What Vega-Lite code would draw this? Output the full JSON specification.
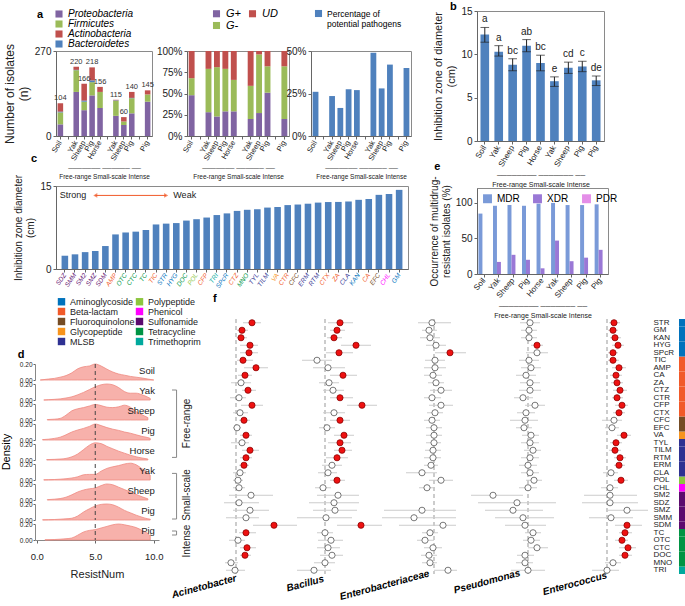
{
"$schema":"https://vega.github.io/schema/vega-lite/v6.json",
"padding":{"left":0,"top":0,"right":0,"bottom":0},
"config":{"font":"Liberation Sans","view":{"stroke":"#8a8a8a"},
"axis":{"labelFont":"Liberation Sans","titleFont":"Liberation Sans","labelFontSize":8,"titleFontSize":10,"titleFontWeight":"normal","domainColor":"#666","tickColor":"#666","labelColor":"#222","titleColor":"#222","grid":false,"tickSize":3},
"legend":{"labelFont":"Liberation Sans","labelFontSize":9,"symbolType":"square","padding":0},
"title":{"font":"Liberation Sans","fontSize":11,"fontWeight":"bold","anchor":"start","color":"#000"}},
"datasets":{
"phyla":[
{"site":"Soil","phylum":"Proteobacteria","n":37},{"site":"Soil","phylum":"Firmicutes","n":38},{"site":"Soil","phylum":"Actinobacteria","n":27},{"site":"Soil","phylum":"Bacteroidetes","n":2},
{"site":"FR Yak","phylum":"Proteobacteria","n":140},{"site":"FR Yak","phylum":"Firmicutes","n":69},{"site":"FR Yak","phylum":"Actinobacteria","n":10},{"site":"FR Yak","phylum":"Bacteroidetes","n":1},
{"site":"FR Sheep","phylum":"Proteobacteria","n":82},{"site":"FR Sheep","phylum":"Firmicutes","n":27},{"site":"FR Sheep","phylum":"Actinobacteria","n":54},{"site":"FR Sheep","phylum":"Bacteroidetes","n":3},
{"site":"FR Pig","phylum":"Proteobacteria","n":129},{"site":"FR Pig","phylum":"Firmicutes","n":42},{"site":"FR Pig","phylum":"Actinobacteria","n":42},{"site":"FR Pig","phylum":"Bacteroidetes","n":5},
{"site":"FR Horse","phylum":"Proteobacteria","n":89},{"site":"FR Horse","phylum":"Firmicutes","n":51},{"site":"FR Horse","phylum":"Actinobacteria","n":16},{"site":"FR Horse","phylum":"Bacteroidetes","n":0},
{"site":"SS Yak","phylum":"Proteobacteria","n":64},{"site":"SS Yak","phylum":"Firmicutes","n":48},{"site":"SS Yak","phylum":"Actinobacteria","n":2},{"site":"SS Yak","phylum":"Bacteroidetes","n":1},
{"site":"SS Sheep","phylum":"Proteobacteria","n":35},{"site":"SS Sheep","phylum":"Firmicutes","n":11},{"site":"SS Sheep","phylum":"Actinobacteria","n":14},{"site":"SS Sheep","phylum":"Bacteroidetes","n":0},
{"site":"SS Pig","phylum":"Proteobacteria","n":72},{"site":"SS Pig","phylum":"Firmicutes","n":48},{"site":"SS Pig","phylum":"Actinobacteria","n":19},{"site":"SS Pig","phylum":"Bacteroidetes","n":1},
{"site":"IN Pig","phylum":"Proteobacteria","n":109},{"site":"IN Pig","phylum":"Firmicutes","n":23},{"site":"IN Pig","phylum":"Actinobacteria","n":13},{"site":"IN Pig","phylum":"Bacteroidetes","n":0}],
"gram":[
{"site":"Soil","g":"G+","p":48},{"site":"Soil","g":"G-","p":20},{"site":"Soil","g":"UD","p":32},
{"site":"FR Yak","g":"G+","p":28},{"site":"FR Yak","g":"G-","p":51},{"site":"FR Yak","g":"UD","p":21},
{"site":"FR Sheep","g":"G+","p":23},{"site":"FR Sheep","g":"G-","p":58},{"site":"FR Sheep","g":"UD","p":19},
{"site":"FR Pig","g":"G+","p":29},{"site":"FR Pig","g":"G-","p":50},{"site":"FR Pig","g":"UD","p":21},
{"site":"FR Horse","g":"G+","p":29},{"site":"FR Horse","g":"G-","p":37},{"site":"FR Horse","g":"UD","p":34},
{"site":"SS Yak","g":"G+","p":20},{"site":"SS Yak","g":"G-","p":39},{"site":"SS Yak","g":"UD","p":41},
{"site":"SS Sheep","g":"G+","p":27},{"site":"SS Sheep","g":"G-","p":69},{"site":"SS Sheep","g":"UD","p":4},
{"site":"SS Pig","g":"G+","p":51},{"site":"SS Pig","g":"G-","p":31},{"site":"SS Pig","g":"UD","p":18},
{"site":"IN Pig","g":"G+","p":20},{"site":"IN Pig","g":"G-","p":62},{"site":"IN Pig","g":"UD","p":18}],
"path":[{"site":"Soil","p":26},{"site":"FR Yak","p":23.5},{"site":"FR Sheep","p":16.5},{"site":"FR Pig","p":27.5},{"site":"FR Horse","p":27},{"site":"SS Yak","p":49},{"site":"SS Sheep","p":28},{"site":"SS Pig","p":42},{"site":"IN Pig","p":40}],
"zone":[{"site":"Soil","m":12.3,"lo":11.4,"hi":13.1,"let":"a"},{"site":"FR Yak","m":10.3,"lo":9.8,"hi":11.0,"let":"a"},{"site":"FR Sheep","m":8.8,"lo":8.1,"hi":9.5,"let":"bc"},{"site":"FR Pig","m":11.0,"lo":10.3,"hi":11.7,"let":"ab"},{"site":"FR Horse","m":9.0,"lo":8.1,"hi":9.9,"let":"bc"},{"site":"SS Yak","m":6.9,"lo":6.3,"hi":7.4,"let":"e"},{"site":"SS Sheep","m":8.45,"lo":7.8,"hi":9.1,"let":"cd"},{"site":"SS Pig","m":8.6,"lo":8.0,"hi":9.2,"let":"c"},{"site":"IN Pig","m":7.0,"lo":6.4,"hi":7.5,"let":"de"}],
"mdr":[
{"site":"Soil","type":"MDR","pct":85},{"site":"Soil","type":"XDR","pct":0},{"site":"Soil","type":"PDR","pct":0},
{"site":"FR Yak","type":"MDR","pct":96},{"site":"FR Yak","type":"XDR","pct":17},{"site":"FR Yak","type":"PDR","pct":0},
{"site":"FR Sheep","type":"MDR","pct":97},{"site":"FR Sheep","type":"XDR","pct":27},{"site":"FR Sheep","type":"PDR","pct":0},
{"site":"FR Pig","type":"MDR","pct":96},{"site":"FR Pig","type":"XDR","pct":20},{"site":"FR Pig","type":"PDR","pct":0},
{"site":"FR Horse","type":"MDR","pct":99},{"site":"FR Horse","type":"XDR","pct":8},{"site":"FR Horse","type":"PDR","pct":0},
{"site":"SS Yak","type":"MDR","pct":100},{"site":"SS Yak","type":"XDR","pct":47},{"site":"SS Yak","type":"PDR","pct":0},
{"site":"SS Sheep","type":"MDR","pct":97},{"site":"SS Sheep","type":"XDR","pct":18},{"site":"SS Sheep","type":"PDR","pct":0},
{"site":"SS Pig","type":"MDR","pct":97},{"site":"SS Pig","type":"XDR","pct":23},{"site":"SS Pig","type":"PDR","pct":0},
{"site":"IN Pig","type":"MDR","pct":98},{"site":"IN Pig","type":"XDR","pct":34},{"site":"IN Pig","type":"PDR","pct":0}],
"dens":[
{"rid":"r1","lab":"Soil","x":0.3,"d":0},{"rid":"r1","lab":"Soil","x":1,"d":0.012},{"rid":"r1","lab":"Soil","x":1.5,"d":0.02},{"rid":"r1","lab":"Soil","x":2,"d":0.035},{"rid":"r1","lab":"Soil","x":2.5,"d":0.055},{"rid":"r1","lab":"Soil","x":3,"d":0.09},{"rid":"r1","lab":"Soil","x":3.5,"d":0.14},{"rid":"r1","lab":"Soil","x":4,"d":0.165},{"rid":"r1","lab":"Soil","x":4.5,"d":0.175},{"rid":"r1","lab":"Soil","x":5,"d":0.2},{"rid":"r1","lab":"Soil","x":5.5,"d":0.175},{"rid":"r1","lab":"Soil","x":6,"d":0.135},{"rid":"r1","lab":"Soil","x":6.5,"d":0.1},{"rid":"r1","lab":"Soil","x":7,"d":0.075},{"rid":"r1","lab":"Soil","x":7.5,"d":0.06},{"rid":"r1","lab":"Soil","x":8,"d":0.045},{"rid":"r1","lab":"Soil","x":8.5,"d":0.035},{"rid":"r1","lab":"Soil","x":9,"d":0.025},{"rid":"r1","lab":"Soil","x":9.5,"d":0.012},{"rid":"r1","lab":"Soil","x":10,"d":0},
{"rid":"r2","lab":"Yak","x":0.6,"d":0},{"rid":"r2","lab":"Yak","x":1,"d":0.004},{"rid":"r2","lab":"Yak","x":1.5,"d":0.008},{"rid":"r2","lab":"Yak","x":2,"d":0.014},{"rid":"r2","lab":"Yak","x":2.5,"d":0.025},{"rid":"r2","lab":"Yak","x":3,"d":0.04},{"rid":"r2","lab":"Yak","x":3.5,"d":0.065},{"rid":"r2","lab":"Yak","x":4,"d":0.095},{"rid":"r2","lab":"Yak","x":4.5,"d":0.13},{"rid":"r2","lab":"Yak","x":5,"d":0.165},{"rid":"r2","lab":"Yak","x":5.5,"d":0.19},{"rid":"r2","lab":"Yak","x":6,"d":0.2},{"rid":"r2","lab":"Yak","x":6.5,"d":0.19},{"rid":"r2","lab":"Yak","x":7,"d":0.155},{"rid":"r2","lab":"Yak","x":7.5,"d":0.105},{"rid":"r2","lab":"Yak","x":8,"d":0.085},{"rid":"r2","lab":"Yak","x":8.5,"d":0.085},{"rid":"r2","lab":"Yak","x":9,"d":0.065},{"rid":"r2","lab":"Yak","x":9.5,"d":0.035},{"rid":"r2","lab":"Yak","x":9.7,"d":0.02},
{"rid":"r3","lab":"Sheep","x":0.9,"d":0.005},{"rid":"r3","lab":"Sheep","x":1.5,"d":0.01},{"rid":"r3","lab":"Sheep","x":2,"d":0.02},{"rid":"r3","lab":"Sheep","x":2.5,"d":0.06},{"rid":"r3","lab":"Sheep","x":3,"d":0.115},{"rid":"r3","lab":"Sheep","x":3.5,"d":0.14},{"rid":"r3","lab":"Sheep","x":4,"d":0.155},{"rid":"r3","lab":"Sheep","x":4.5,"d":0.175},{"rid":"r3","lab":"Sheep","x":5,"d":0.195},{"rid":"r3","lab":"Sheep","x":5.5,"d":0.18},{"rid":"r3","lab":"Sheep","x":6,"d":0.16},{"rid":"r3","lab":"Sheep","x":6.5,"d":0.155},{"rid":"r3","lab":"Sheep","x":7,"d":0.165},{"rid":"r3","lab":"Sheep","x":7.5,"d":0.185},{"rid":"r3","lab":"Sheep","x":8,"d":0.16},{"rid":"r3","lab":"Sheep","x":8.5,"d":0.105},{"rid":"r3","lab":"Sheep","x":9,"d":0.065},{"rid":"r3","lab":"Sheep","x":9.5,"d":0.03},
{"rid":"r4","lab":"Pig","x":0.5,"d":0.005},{"rid":"r4","lab":"Pig","x":1,"d":0.01},{"rid":"r4","lab":"Pig","x":1.5,"d":0.02},{"rid":"r4","lab":"Pig","x":2,"d":0.035},{"rid":"r4","lab":"Pig","x":2.5,"d":0.065},{"rid":"r4","lab":"Pig","x":3,"d":0.1},{"rid":"r4","lab":"Pig","x":3.5,"d":0.125},{"rid":"r4","lab":"Pig","x":4,"d":0.145},{"rid":"r4","lab":"Pig","x":4.5,"d":0.17},{"rid":"r4","lab":"Pig","x":5,"d":0.2},{"rid":"r4","lab":"Pig","x":5.5,"d":0.18},{"rid":"r4","lab":"Pig","x":6,"d":0.155},{"rid":"r4","lab":"Pig","x":6.5,"d":0.135},{"rid":"r4","lab":"Pig","x":7,"d":0.12},{"rid":"r4","lab":"Pig","x":7.5,"d":0.1},{"rid":"r4","lab":"Pig","x":8,"d":0.085},{"rid":"r4","lab":"Pig","x":8.5,"d":0.065},{"rid":"r4","lab":"Pig","x":9,"d":0.045},{"rid":"r4","lab":"Pig","x":9.5,"d":0.03},{"rid":"r4","lab":"Pig","x":9.7,"d":0.02},
{"rid":"r5","lab":"Horse","x":0.85,"d":0.005},{"rid":"r5","lab":"Horse","x":1.5,"d":0.008},{"rid":"r5","lab":"Horse","x":2,"d":0.012},{"rid":"r5","lab":"Horse","x":2.5,"d":0.02},{"rid":"r5","lab":"Horse","x":3,"d":0.04},{"rid":"r5","lab":"Horse","x":3.5,"d":0.075},{"rid":"r5","lab":"Horse","x":4,"d":0.13},{"rid":"r5","lab":"Horse","x":4.5,"d":0.185},{"rid":"r5","lab":"Horse","x":5,"d":0.215},{"rid":"r5","lab":"Horse","x":5.5,"d":0.205},{"rid":"r5","lab":"Horse","x":6,"d":0.17},{"rid":"r5","lab":"Horse","x":6.5,"d":0.14},{"rid":"r5","lab":"Horse","x":7,"d":0.11},{"rid":"r5","lab":"Horse","x":7.5,"d":0.085},{"rid":"r5","lab":"Horse","x":8,"d":0.06},{"rid":"r5","lab":"Horse","x":8.5,"d":0.04},{"rid":"r5","lab":"Horse","x":9,"d":0.025},{"rid":"r5","lab":"Horse","x":9.5,"d":0.012},
{"rid":"r6","lab":"Yak","x":0.6,"d":0.002},{"rid":"r6","lab":"Yak","x":1,"d":0.004},{"rid":"r6","lab":"Yak","x":1.5,"d":0.006},{"rid":"r6","lab":"Yak","x":2,"d":0.01},{"rid":"r6","lab":"Yak","x":2.5,"d":0.016},{"rid":"r6","lab":"Yak","x":3,"d":0.025},{"rid":"r6","lab":"Yak","x":3.5,"d":0.04},{"rid":"r6","lab":"Yak","x":4,"d":0.065},{"rid":"r6","lab":"Yak","x":4.5,"d":0.07},{"rid":"r6","lab":"Yak","x":5,"d":0.07},{"rid":"r6","lab":"Yak","x":5.5,"d":0.11},{"rid":"r6","lab":"Yak","x":6,"d":0.145},{"rid":"r6","lab":"Yak","x":6.5,"d":0.165},{"rid":"r6","lab":"Yak","x":7,"d":0.18},{"rid":"r6","lab":"Yak","x":7.5,"d":0.2},{"rid":"r6","lab":"Yak","x":8,"d":0.21},{"rid":"r6","lab":"Yak","x":8.5,"d":0.19},{"rid":"r6","lab":"Yak","x":9,"d":0.14},{"rid":"r6","lab":"Yak","x":9.5,"d":0.085},{"rid":"r6","lab":"Yak","x":9.7,"d":0.06},
{"rid":"r7","lab":"Sheep","x":0.9,"d":0.004},{"rid":"r7","lab":"Sheep","x":1.5,"d":0.01},{"rid":"r7","lab":"Sheep","x":2,"d":0.018},{"rid":"r7","lab":"Sheep","x":2.5,"d":0.035},{"rid":"r7","lab":"Sheep","x":3,"d":0.065},{"rid":"r7","lab":"Sheep","x":3.5,"d":0.1},{"rid":"r7","lab":"Sheep","x":4,"d":0.125},{"rid":"r7","lab":"Sheep","x":4.5,"d":0.14},{"rid":"r7","lab":"Sheep","x":5,"d":0.15},{"rid":"r7","lab":"Sheep","x":5.5,"d":0.18},{"rid":"r7","lab":"Sheep","x":6,"d":0.2},{"rid":"r7","lab":"Sheep","x":6.5,"d":0.19},{"rid":"r7","lab":"Sheep","x":7,"d":0.16},{"rid":"r7","lab":"Sheep","x":7.5,"d":0.13},{"rid":"r7","lab":"Sheep","x":8,"d":0.1},{"rid":"r7","lab":"Sheep","x":8.5,"d":0.07},{"rid":"r7","lab":"Sheep","x":9,"d":0.04},{"rid":"r7","lab":"Sheep","x":9.5,"d":0.015},
{"rid":"r8","lab":"Pig","x":0.5,"d":0.002},{"rid":"r8","lab":"Pig","x":1,"d":0.004},{"rid":"r8","lab":"Pig","x":1.5,"d":0.006},{"rid":"r8","lab":"Pig","x":2,"d":0.01},{"rid":"r8","lab":"Pig","x":2.5,"d":0.015},{"rid":"r8","lab":"Pig","x":3,"d":0.022},{"rid":"r8","lab":"Pig","x":3.5,"d":0.05},{"rid":"r8","lab":"Pig","x":4,"d":0.1},{"rid":"r8","lab":"Pig","x":4.5,"d":0.14},{"rid":"r8","lab":"Pig","x":5,"d":0.175},{"rid":"r8","lab":"Pig","x":5.5,"d":0.195},{"rid":"r8","lab":"Pig","x":6,"d":0.2},{"rid":"r8","lab":"Pig","x":6.5,"d":0.19},{"rid":"r8","lab":"Pig","x":7,"d":0.16},{"rid":"r8","lab":"Pig","x":7.5,"d":0.12},{"rid":"r8","lab":"Pig","x":8,"d":0.09},{"rid":"r8","lab":"Pig","x":8.5,"d":0.06},{"rid":"r8","lab":"Pig","x":9,"d":0.035},{"rid":"r8","lab":"Pig","x":9.5,"d":0.015},{"rid":"r8","lab":"Pig","x":9.7,"d":0.01},
{"rid":"r9","lab":"Pig","x":0.7,"d":0.002},{"rid":"r9","lab":"Pig","x":1.5,"d":0.006},{"rid":"r9","lab":"Pig","x":2,"d":0.01},{"rid":"r9","lab":"Pig","x":2.5,"d":0.016},{"rid":"r9","lab":"Pig","x":3,"d":0.025},{"rid":"r9","lab":"Pig","x":3.5,"d":0.06},{"rid":"r9","lab":"Pig","x":4,"d":0.1},{"rid":"r9","lab":"Pig","x":4.5,"d":0.12},{"rid":"r9","lab":"Pig","x":5,"d":0.13},{"rid":"r9","lab":"Pig","x":5.5,"d":0.15},{"rid":"r9","lab":"Pig","x":6,"d":0.17},{"rid":"r9","lab":"Pig","x":6.5,"d":0.19},{"rid":"r9","lab":"Pig","x":7,"d":0.2},{"rid":"r9","lab":"Pig","x":7.5,"d":0.19},{"rid":"r9","lab":"Pig","x":8,"d":0.175},{"rid":"r9","lab":"Pig","x":8.5,"d":0.155},{"rid":"r9","lab":"Pig","x":9,"d":0.12},{"rid":"r9","lab":"Pig","x":9.5,"d":0.08},{"rid":"r9","lab":"Pig","x":9.7,"d":0.05}],
"brk":[{"grp":"Free-range","from":1.9,"to":5.27,"mid":3.57},{"grp":"Small-scale","from":6.07,"to":8.35,"mid":7.15},{"grp":"Intense","from":8.95,"to":9.15,"mid":9.45}],
"abx":[
{"ab":"SDZ","cls":"Sulfonamide","zone":2.4},{"ab":"SMM","cls":"Sulfonamide","zone":2.65},{"ab":"SM2","cls":"Sulfonamide","zone":3.05},{"ab":"SMZ","cls":"Sulfonamide","zone":3.25},{"ab":"SDM","cls":"Sulfonamide","zone":4.15},
{"ab":"AMP","cls":"Beta-lactam","zone":6.25},{"ab":"OTC","cls":"Tetracycline","zone":6.6},{"ab":"CTC","cls":"Tetracycline","zone":6.75},{"ab":"TC","cls":"Tetracycline","zone":7.05},{"ab":"TIC","cls":"Beta-lactam","zone":8.05},
{"ab":"STR","cls":"Aminoglycoside","zone":8.2},{"ab":"HYG","cls":"Aminoglycoside","zone":8.3},{"ab":"DOC","cls":"Tetracycline","zone":8.75},{"ab":"POL","cls":"Polypeptide","zone":9.0},{"ab":"CFP","cls":"Beta-lactam","zone":9.3},
{"ab":"TRI","cls":"Trimethoprim","zone":9.75},{"ab":"SPcR","cls":"Aminoglycoside","zone":10.05},{"ab":"CTZ","cls":"Beta-lactam","zone":10.5},{"ab":"MNO","cls":"Tetracycline","zone":10.7},{"ab":"TYL","cls":"MLSB","zone":10.8},
{"ab":"TILM","cls":"MLSB","zone":11.1},{"ab":"VA","cls":"Glycopeptide","zone":11.2},{"ab":"CTR","cls":"Beta-lactam","zone":11.55},{"ab":"CFC","cls":"Fluoroquinolone","zone":11.65},{"ab":"ERM","cls":"MLSB","zone":11.8},
{"ab":"RTM","cls":"MLSB","zone":12.0},{"ab":"CTX","cls":"Beta-lactam","zone":12.1},{"ab":"ZA","cls":"Beta-lactam","zone":12.12},{"ab":"CLA","cls":"MLSB","zone":12.2},{"ab":"KAN","cls":"Aminoglycoside","zone":12.5},
{"ab":"CA","cls":"Beta-lactam","zone":12.65},{"ab":"EFC","cls":"Fluoroquinolone","zone":13.4},{"ab":"CHL","cls":"Phenicol","zone":13.55},{"ab":"GM","cls":"Aminoglycoside","zone":14.3}],
"forest":[
{"b":"Acinetobacter","ab":"STR","e":1.6,"l":0.7,"h":2.5,"sig":"yes"},{"b":"Acinetobacter","ab":"GM","e":0.6,"l":0.1,"h":1.2,"sig":"yes"},{"b":"Acinetobacter","ab":"KAN","e":0.5,"l":0.05,"h":1.1,"sig":"yes"},{"b":"Acinetobacter","ab":"HYG","e":1.4,"l":0.4,"h":2.2,"sig":"yes"},{"b":"Acinetobacter","ab":"SPcR","e":1.3,"l":0.4,"h":2.2,"sig":"yes"},{"b":"Acinetobacter","ab":"TIC","e":0.7,"l":0.1,"h":1.7,"sig":"yes"},{"b":"Acinetobacter","ab":"AMP","e":2.0,"l":0.8,"h":3.2,"sig":"yes"},{"b":"Acinetobacter","ab":"CA","e":0.9,"l":0.2,"h":1.6,"sig":"yes"},{"b":"Acinetobacter","ab":"ZA","e":0.5,"l":-0.5,"h":1.5,"sig":"no"},{"b":"Acinetobacter","ab":"CTZ","e":1.2,"l":0.6,"h":2.0,"sig":"yes"},{"b":"Acinetobacter","ab":"CTR","e":0.3,"l":-0.6,"h":1.0,"sig":"no"},{"b":"Acinetobacter","ab":"CFP","e":1.6,"l":0.5,"h":2.7,"sig":"yes"},{"b":"Acinetobacter","ab":"CTX","e":0.4,"l":-0.3,"h":1.2,"sig":"no"},{"b":"Acinetobacter","ab":"CFC","e":0.8,"l":0.3,"h":1.4,"sig":"yes"},{"b":"Acinetobacter","ab":"EFC","e":0.1,"l":-0.3,"h":0.5,"sig":"no"},{"b":"Acinetobacter","ab":"VA","e":1.0,"l":0.4,"h":1.6,"sig":"yes"},{"b":"Acinetobacter","ab":"TYL","e":0.6,"l":-0.5,"h":1.3,"sig":"no"},{"b":"Acinetobacter","ab":"TILM","e":1.4,"l":0.6,"h":2.3,"sig":"yes"},{"b":"Acinetobacter","ab":"RTM","e":1.0,"l":0.4,"h":1.6,"sig":"yes"},{"b":"Acinetobacter","ab":"ERM","e":0.8,"l":0.3,"h":1.3,"sig":"yes"},{"b":"Acinetobacter","ab":"CLA","e":0.4,"l":-0.3,"h":1.0,"sig":"no"},{"b":"Acinetobacter","ab":"POL","e":0.2,"l":-0.3,"h":0.7,"sig":"no"},{"b":"Acinetobacter","ab":"CHL","e":0.3,"l":-0.3,"h":0.9,"sig":"no"},{"b":"Acinetobacter","ab":"SM2","e":1.5,"l":-0.7,"h":3.7,"sig":"no"},{"b":"Acinetobacter","ab":"SDZ","e":0.3,"l":-1.2,"h":2.3,"sig":"no"},{"b":"Acinetobacter","ab":"SMZ","e":1.4,"l":-0.3,"h":3.3,"sig":"no"},{"b":"Acinetobacter","ab":"SMM","e":1.0,"l":-1.0,"h":2.3,"sig":"no"},{"b":"Acinetobacter","ab":"SDM","e":3.8,"l":1.7,"h":6.1,"sig":"yes"},{"b":"Acinetobacter","ab":"TC","e":1.0,"l":0.3,"h":2.0,"sig":"yes"},{"b":"Acinetobacter","ab":"OTC","e":0.2,"l":-0.7,"h":0.9,"sig":"no"},{"b":"Acinetobacter","ab":"CTC","e":1.1,"l":0.4,"h":2.0,"sig":"yes"},{"b":"Acinetobacter","ab":"DOC","e":0.9,"l":0.4,"h":1.5,"sig":"yes"},{"b":"Acinetobacter","ab":"MNO","e":-0.5,"l":-1.1,"h":0.2,"sig":"no"},{"b":"Acinetobacter","ab":"TRI","e":-0.1,"l":-1.0,"h":0.9,"sig":"no"},
{"b":"Bacillus","ab":"STR","e":1.5,"l":0.3,"h":2.8,"sig":"yes"},{"b":"Bacillus","ab":"GM","e":1.2,"l":0.5,"h":2.0,"sig":"yes"},{"b":"Bacillus","ab":"KAN","e":0.9,"l":0.2,"h":1.7,"sig":"yes"},{"b":"Bacillus","ab":"HYG","e":3.1,"l":1.6,"h":4.6,"sig":"yes"},{"b":"Bacillus","ab":"SPcR","e":1.4,"l":0.1,"h":2.8,"sig":"yes"},{"b":"Bacillus","ab":"TIC","e":-0.8,"l":-2.3,"h":0.7,"sig":"no"},{"b":"Bacillus","ab":"AMP","e":0.3,"l":-1.2,"h":2.0,"sig":"no"},{"b":"Bacillus","ab":"CA","e":1.8,"l":0.5,"h":3.2,"sig":"yes"},{"b":"Bacillus","ab":"ZA","e":0.4,"l":-0.6,"h":1.4,"sig":"no"},{"b":"Bacillus","ab":"CTZ","e":0.8,"l":-0.2,"h":1.9,"sig":"no"},{"b":"Bacillus","ab":"CTR","e":1.5,"l":0.5,"h":2.8,"sig":"yes"},{"b":"Bacillus","ab":"CFP","e":3.7,"l":2.2,"h":5.2,"sig":"yes"},{"b":"Bacillus","ab":"CTX","e":0.9,"l":-0.2,"h":2.0,"sig":"no"},{"b":"Bacillus","ab":"CFC","e":1.5,"l":0.5,"h":2.5,"sig":"yes"},{"b":"Bacillus","ab":"EFC","e":0.2,"l":-0.6,"h":1.0,"sig":"no"},{"b":"Bacillus","ab":"VA","e":1.9,"l":0.9,"h":2.9,"sig":"yes"},{"b":"Bacillus","ab":"TYL","e":1.5,"l":0.3,"h":2.6,"sig":"yes"},{"b":"Bacillus","ab":"TILM","e":1.7,"l":0.9,"h":2.7,"sig":"yes"},{"b":"Bacillus","ab":"RTM","e":1.2,"l":0.1,"h":2.3,"sig":"yes"},{"b":"Bacillus","ab":"ERM","e":0.7,"l":-0.3,"h":1.7,"sig":"no"},{"b":"Bacillus","ab":"CLA","e":0.3,"l":-0.7,"h":1.2,"sig":"no"},{"b":"Bacillus","ab":"POL","e":1.2,"l":0.5,"h":2.0,"sig":"yes"},{"b":"Bacillus","ab":"CHL","e":-0.2,"l":-1.0,"h":0.6,"sig":"no"},{"b":"Bacillus","ab":"SM2","e":1.3,"l":-0.8,"h":3.4,"sig":"no"},{"b":"Bacillus","ab":"SDZ","e":0.9,"l":-1.6,"h":3.4,"sig":"no"},{"b":"Bacillus","ab":"SMZ","e":1.0,"l":-1.2,"h":3.2,"sig":"no"},{"b":"Bacillus","ab":"SMM","e":0.1,"l":-2.8,"h":2.7,"sig":"no"},{"b":"Bacillus","ab":"SDM","e":3.6,"l":1.2,"h":5.7,"sig":"yes"},{"b":"Bacillus","ab":"TC","e":0.0,"l":-0.8,"h":0.8,"sig":"no"},{"b":"Bacillus","ab":"OTC","e":0.6,"l":-0.7,"h":1.8,"sig":"no"},{"b":"Bacillus","ab":"CTC","e":0.3,"l":-0.8,"h":1.5,"sig":"no"},{"b":"Bacillus","ab":"DOC","e":0.7,"l":-0.5,"h":1.8,"sig":"no"},{"b":"Bacillus","ab":"MNO","e":0.0,"l":-1.1,"h":1.0,"sig":"no"},{"b":"Bacillus","ab":"TRI","e":-1.1,"l":-2.8,"h":0.6,"sig":"no"},
{"b":"Enterobacteriaceae","ab":"STR","e":-0.2,"l":-1.6,"h":1.7,"sig":"no"},{"b":"Enterobacteriaceae","ab":"GM","e":-0.5,"l":-1.2,"h":0.3,"sig":"no"},{"b":"Enterobacteriaceae","ab":"KAN","e":-0.4,"l":-1.4,"h":0.6,"sig":"no"},{"b":"Enterobacteriaceae","ab":"HYG","e":0.2,"l":-0.8,"h":1.2,"sig":"no"},{"b":"Enterobacteriaceae","ab":"SPcR","e":1.6,"l":0.1,"h":3.2,"sig":"yes"},{"b":"Enterobacteriaceae","ab":"TIC","e":0.1,"l":-0.9,"h":1.1,"sig":"no"},{"b":"Enterobacteriaceae","ab":"AMP","e":0.1,"l":-1.0,"h":1.2,"sig":"no"},{"b":"Enterobacteriaceae","ab":"CA","e":-0.1,"l":-1.0,"h":0.8,"sig":"no"},{"b":"Enterobacteriaceae","ab":"ZA","e":0.2,"l":-0.6,"h":1.0,"sig":"no"},{"b":"Enterobacteriaceae","ab":"CTZ","e":0.7,"l":-0.4,"h":1.8,"sig":"no"},{"b":"Enterobacteriaceae","ab":"CTR","e":-0.2,"l":-1.0,"h":0.7,"sig":"no"},{"b":"Enterobacteriaceae","ab":"CFP","e":0.7,"l":-0.5,"h":1.9,"sig":"no"},{"b":"Enterobacteriaceae","ab":"CTX","e":0.1,"l":-0.7,"h":0.9,"sig":"no"},{"b":"Enterobacteriaceae","ab":"CFC","e":-0.2,"l":-1.0,"h":0.6,"sig":"no"},{"b":"Enterobacteriaceae","ab":"EFC","e":0.0,"l":-0.8,"h":0.8,"sig":"no"},{"b":"Enterobacteriaceae","ab":"VA","e":0.0,"l":-0.8,"h":0.8,"sig":"no"},{"b":"Enterobacteriaceae","ab":"TYL","e":0.0,"l":-0.8,"h":0.7,"sig":"no"},{"b":"Enterobacteriaceae","ab":"TILM","e":-0.1,"l":-0.9,"h":0.7,"sig":"no"},{"b":"Enterobacteriaceae","ab":"RTM","e":-0.1,"l":-1.0,"h":0.7,"sig":"no"},{"b":"Enterobacteriaceae","ab":"ERM","e":-0.3,"l":-1.0,"h":0.4,"sig":"no"},{"b":"Enterobacteriaceae","ab":"CLA","e":-1.2,"l":-2.8,"h":0.3,"sig":"no"},{"b":"Enterobacteriaceae","ab":"POL","e":0.7,"l":-0.5,"h":1.9,"sig":"no"},{"b":"Enterobacteriaceae","ab":"CHL","e":-0.7,"l":-1.5,"h":0.1,"sig":"no"},{"b":"Enterobacteriaceae","ab":"SMZ","e":-1.2,"l":-5.0,"h":2.2,"sig":"no"},{"b":"Enterobacteriaceae","ab":"SMM","e":-2.0,"l":-5.2,"h":2.2,"sig":"no"},{"b":"Enterobacteriaceae","ab":"SDM","e":0.9,"l":-3.5,"h":2.2,"sig":"no"},{"b":"Enterobacteriaceae","ab":"TC","e":-0.4,"l":-1.2,"h":0.4,"sig":"no"},{"b":"Enterobacteriaceae","ab":"OTC","e":-0.9,"l":-1.7,"h":0.0,"sig":"no"},{"b":"Enterobacteriaceae","ab":"CTC","e":-0.1,"l":-1.0,"h":0.8,"sig":"no"},{"b":"Enterobacteriaceae","ab":"DOC","e":-0.5,"l":-1.3,"h":0.3,"sig":"no"},{"b":"Enterobacteriaceae","ab":"MNO","e":-0.4,"l":-1.2,"h":0.3,"sig":"no"},{"b":"Enterobacteriaceae","ab":"TRI","e":1.4,"l":0.0,"h":2.3,"sig":"no"},
{"b":"Pseudomonas","ab":"STR","e":0.2,"l":-0.8,"h":1.2,"sig":"no"},{"b":"Pseudomonas","ab":"GM","e":0.1,"l":-0.7,"h":0.9,"sig":"no"},{"b":"Pseudomonas","ab":"KAN","e":0.1,"l":-0.7,"h":0.9,"sig":"no"},{"b":"Pseudomonas","ab":"HYG","e":0.9,"l":0.3,"h":1.5,"sig":"yes"},{"b":"Pseudomonas","ab":"SPcR","e":0.9,"l":-0.2,"h":2.0,"sig":"no"},{"b":"Pseudomonas","ab":"TIC","e":0.1,"l":-0.9,"h":1.1,"sig":"no"},{"b":"Pseudomonas","ab":"AMP","e":0.3,"l":-0.7,"h":1.3,"sig":"no"},{"b":"Pseudomonas","ab":"CA","e":-0.2,"l":-1.2,"h":0.8,"sig":"no"},{"b":"Pseudomonas","ab":"ZA","e":0.2,"l":-0.8,"h":1.2,"sig":"no"},{"b":"Pseudomonas","ab":"CTZ","e":0.2,"l":-0.9,"h":1.3,"sig":"no"},{"b":"Pseudomonas","ab":"CTR","e":-0.5,"l":-1.4,"h":0.5,"sig":"no"},{"b":"Pseudomonas","ab":"CFP","e":0.7,"l":-0.3,"h":1.7,"sig":"no"},{"b":"Pseudomonas","ab":"CTX","e":-0.2,"l":-1.1,"h":0.7,"sig":"no"},{"b":"Pseudomonas","ab":"CFC","e":-0.3,"l":-1.8,"h":1.0,"sig":"no"},{"b":"Pseudomonas","ab":"EFC","e":-0.4,"l":-1.2,"h":0.4,"sig":"no"},{"b":"Pseudomonas","ab":"VA","e":0.3,"l":-0.6,"h":1.1,"sig":"no"},{"b":"Pseudomonas","ab":"TYL","e":0.2,"l":-0.7,"h":1.1,"sig":"no"},{"b":"Pseudomonas","ab":"TILM","e":0.5,"l":-0.4,"h":1.3,"sig":"no"},{"b":"Pseudomonas","ab":"RTM","e":0.2,"l":-0.7,"h":1.1,"sig":"no"},{"b":"Pseudomonas","ab":"ERM","e":0.0,"l":-0.9,"h":0.9,"sig":"no"},{"b":"Pseudomonas","ab":"CLA","e":0.2,"l":-0.7,"h":1.1,"sig":"no"},{"b":"Pseudomonas","ab":"POL","e":0.6,"l":-0.2,"h":1.4,"sig":"no"},{"b":"Pseudomonas","ab":"CHL","e":0.0,"l":-0.9,"h":0.9,"sig":"no"},{"b":"Pseudomonas","ab":"SM2","e":-3.5,"l":-5.7,"h":-0.5,"sig":"no"},{"b":"Pseudomonas","ab":"SDZ","e":-1.1,"l":-5.0,"h":2.8,"sig":"no"},{"b":"Pseudomonas","ab":"SMZ","e":-1.5,"l":-4.3,"h":1.5,"sig":"no"},{"b":"Pseudomonas","ab":"SMM","e":-0.5,"l":-3.3,"h":2.6,"sig":"no"},{"b":"Pseudomonas","ab":"SDM","e":-0.3,"l":-2.3,"h":1.8,"sig":"no"},{"b":"Pseudomonas","ab":"TC","e":0.5,"l":-0.3,"h":1.3,"sig":"no"},{"b":"Pseudomonas","ab":"OTC","e":0.3,"l":-0.5,"h":1.2,"sig":"no"},{"b":"Pseudomonas","ab":"CTC","e":0.9,"l":0.0,"h":2.0,"sig":"no"},{"b":"Pseudomonas","ab":"DOC","e":-0.3,"l":-1.1,"h":0.6,"sig":"no"},{"b":"Pseudomonas","ab":"MNO","e":-0.3,"l":-1.2,"h":0.5,"sig":"no"},{"b":"Pseudomonas","ab":"TRI","e":0.0,"l":-1.7,"h":1.7,"sig":"no"},
{"b":"Enterococcus","ab":"STR","e":0.7,"l":0.2,"h":1.3,"sig":"yes"},{"b":"Enterococcus","ab":"GM","e":0.6,"l":0.1,"h":1.1,"sig":"yes"},{"b":"Enterococcus","ab":"KAN","e":0.8,"l":0.3,"h":1.4,"sig":"yes"},{"b":"Enterococcus","ab":"HYG","e":1.1,"l":0.5,"h":1.7,"sig":"yes"},{"b":"Enterococcus","ab":"SPcR","e":0.6,"l":0.1,"h":1.1,"sig":"yes"},{"b":"Enterococcus","ab":"TIC","e":0.6,"l":0.1,"h":1.2,"sig":"yes"},{"b":"Enterococcus","ab":"AMP","e":1.2,"l":0.5,"h":1.9,"sig":"yes"},{"b":"Enterococcus","ab":"CA","e":0.9,"l":0.3,"h":1.5,"sig":"yes"},{"b":"Enterococcus","ab":"ZA","e":1.0,"l":0.4,"h":1.6,"sig":"yes"},{"b":"Enterococcus","ab":"CTZ","e":1.3,"l":0.6,"h":2.0,"sig":"yes"},{"b":"Enterococcus","ab":"CTR","e":1.0,"l":0.5,"h":1.6,"sig":"yes"},{"b":"Enterococcus","ab":"CFP","e":1.5,"l":0.8,"h":2.1,"sig":"yes"},{"b":"Enterococcus","ab":"CTX","e":1.2,"l":0.6,"h":1.8,"sig":"yes"},{"b":"Enterococcus","ab":"CFC","e":0.7,"l":-0.5,"h":1.5,"sig":"no"},{"b":"Enterococcus","ab":"EFC","e":0.5,"l":-0.2,"h":1.2,"sig":"no"},{"b":"Enterococcus","ab":"VA","e":1.7,"l":1.0,"h":2.4,"sig":"yes"},{"b":"Enterococcus","ab":"TYL","e":0.9,"l":0.3,"h":1.5,"sig":"yes"},{"b":"Enterococcus","ab":"TILM","e":0.8,"l":0.2,"h":1.4,"sig":"yes"},{"b":"Enterococcus","ab":"RTM","e":1.3,"l":0.7,"h":1.9,"sig":"yes"},{"b":"Enterococcus","ab":"ERM","e":1.2,"l":0.7,"h":1.8,"sig":"yes"},{"b":"Enterococcus","ab":"CLA","e":0.4,"l":-0.4,"h":1.1,"sig":"no"},{"b":"Enterococcus","ab":"POL","e":1.4,"l":0.7,"h":2.1,"sig":"yes"},{"b":"Enterococcus","ab":"CHL","e":0.3,"l":-0.6,"h":1.1,"sig":"no"},{"b":"Enterococcus","ab":"SM2","e":0.3,"l":-2.3,"h":3.0,"sig":"no"},{"b":"Enterococcus","ab":"SDZ","e":0.3,"l":-2.5,"h":3.1,"sig":"no"},{"b":"Enterococcus","ab":"SMZ","e":2.0,"l":0.0,"h":4.1,"sig":"no"},{"b":"Enterococcus","ab":"SMM","e":0.4,"l":-1.8,"h":2.6,"sig":"no"},{"b":"Enterococcus","ab":"SDM","e":2.0,"l":0.8,"h":3.5,"sig":"yes"},{"b":"Enterococcus","ab":"TC","e":1.8,"l":1.2,"h":2.5,"sig":"yes"},{"b":"Enterococcus","ab":"OTC","e":1.5,"l":0.8,"h":2.1,"sig":"yes"},{"b":"Enterococcus","ab":"CTC","e":2.1,"l":1.2,"h":2.9,"sig":"yes"},{"b":"Enterococcus","ab":"DOC","e":1.8,"l":1.2,"h":2.5,"sig":"yes"},{"b":"Enterococcus","ab":"MNO","e":0.6,"l":-0.2,"h":1.4,"sig":"no"},{"b":"Enterococcus","ab":"TRI","e":0.0,"l":-1.5,"h":1.2,"sig":"no"}]
},
"resolve":{"scale":{"color":"independent","fill":"independent","stroke":"independent","x":"independent","y":"independent"},"legend":{"color":"independent","fill":"independent","stroke":"independent"}},
"spacing":-60,
"vconcat":[
{"hconcat":[
 {"width":1,"height":1,"view":{"stroke":null},"data":{"values":[]},"mark":"point","encoding":{}},
 {"hconcat":[
  {"vconcat":[
   {"vconcat":[
    {"width":1,"height":1,"view":{"stroke":null},"data":{"values":[]},"mark":"point","encoding":{}},
    {"hconcat":[
     {"hconcat":[
     {"width":96,"height":85,"data":{"name":"phyla"},
      "layer":[
       {"mark":{"type":"bar"},
        "encoding":{
         "x":{"field":"site","type":"nominal","scale":{"domain":["Soil"," ","FR Yak","FR Sheep","FR Pig","FR Horse","  ","SS Yak","SS Sheep","SS Pig","   ","IN Pig"],"paddingInner":0.3,"paddingOuter":0.2},
              "axis":{"labelAngle":-60,"labelFontSize":7.5,"labelExpr":"indexof(['FR ','SS ','IN '], substring(datum.value,0,3)) >= 0 ? substring(datum.value,3) : datum.value","title":["─────── ────── ──","Free-range Small-scale Intense"],"titleFontSize":6.5,"titlePadding":3}},
         "y":{"field":"n","type":"quantitative","scale":{"domain":[0,270],"nice":false},"axis":{"values":[0,90,180,270],"title":["Number of isolates","(n)"],"titleFontSize":12,"labelFontSize":10}},
         "color":{"field":"phylum","type":"nominal","sort":["Proteobacteria","Firmicutes","Actinobacteria","Bacteroidetes"],"scale":{"domain":["Proteobacteria","Firmicutes","Actinobacteria","Bacteroidetes"],"range":["#8064a2","#9bbb59","#c0504d","#4f81bd"]},
              "legend":{"orient":"none","legendX":-19,"legendY":-42,"direction":"vertical","title":"a","titleOrient":"left","titleFontSize":11,"titleFontWeight":"bold","titleBaseline":"top","titleAnchor":"start","titlePadding":10,"labelFontStyle":"italic","labelFontSize":10,"symbolSize":50,"rowPadding":0}}}},
       {"transform":[{"aggregate":[{"op":"sum","field":"n","as":"total"}],"groupby":["site"]}],
        "mark":{"type":"text","dy":-5,"fontSize":7.5,"color":"#333"},
        "encoding":{"x":{"field":"site","type":"nominal"},"y":{"field":"total","type":"quantitative"},"text":{"field":"total","type":"quantitative"}}}]},
     {"width":102,"height":85,"data":{"name":"gram"},"mark":{"type":"bar"},
      "encoding":{
       "x":{"field":"site","type":"nominal","scale":{"domain":["Soil"," ","FR Yak","FR Sheep","FR Pig","FR Horse","  ","SS Yak","SS Sheep","SS Pig","   ","IN Pig"],"paddingInner":0.3,"paddingOuter":0.2},
            "axis":{"labelAngle":-60,"labelFontSize":7.5,"labelExpr":"indexof(['FR ','SS ','IN '], substring(datum.value,0,3)) >= 0 ? substring(datum.value,3) : datum.value","title":["─────── ────── ──","Free-range Small-scale Intense"],"titleFontSize":6.5,"titlePadding":3}},
       "y":{"field":"p","type":"quantitative","scale":{"domain":[0,100],"nice":false},"axis":{"values":[0,25,50,75,100],"labelExpr":"datum.value + '%'","title":null,"labelFontSize":10}},
       "color":{"field":"g","type":"nominal","sort":["G+","G-","UD"],"scale":{"domain":["G+","G-","UD"],"range":["#8064a2","#9bbb59","#c0504d"]},
            "legend":{"orient":"none","legendX":24,"legendY":-43,"columns":2,"title":null,"labelFontStyle":"italic","labelFontSize":11,"symbolSize":50,"rowPadding":0,"columnPadding":6}},
       "order":{"field":"g","sort":"ascending"}}}
     ],"spacing":0,"resolve":{"scale":{"color":"independent","x":"independent","y":"independent"},"legend":{"color":"independent"}}},
     {"width":100,"height":85,"data":{"name":"path"},"mark":{"type":"bar"},
      "encoding":{
       "x":{"field":"site","type":"nominal","scale":{"domain":["Soil"," ","FR Yak","FR Sheep","FR Pig","FR Horse","  ","SS Yak","SS Sheep","SS Pig","   ","IN Pig"],"paddingInner":0.3,"paddingOuter":0.2},
            "axis":{"labelAngle":-60,"labelFontSize":7.5,"labelExpr":"indexof(['FR ','SS ','IN '], substring(datum.value,0,3)) >= 0 ? substring(datum.value,3) : datum.value","title":["─────── ────── ──","Free-range Small-scale Intense"],"titleFontSize":6.5,"titlePadding":3}},
       "y":{"field":"p","type":"quantitative","scale":{"domain":[0,50],"nice":false},"axis":{"values":[0,25,50],"labelExpr":"datum.value + '%'","title":null,"labelFontSize":10}},
       "color":{"datum":"Percentage of potential pathogens","type":"nominal","scale":{"range":["#4f81bd"]},
            "legend":{"orient":"none","legendX":3,"legendY":-42,"title":null,"labelFontSize":8.5,"symbolSize":50,"labelExpr":"['Percentage of', 'potential pathogens']"}}}}
    ],"spacing":-5,"resolve":{"scale":{"color":"independent","x":"independent","y":"independent"},"legend":{"color":"independent"}}}
   ],"spacing":-5,"resolve":{"scale":{"color":"independent","x":"independent","y":"independent"},"legend":{"color":"independent"}}},
   {"width":352,"height":83,"data":{"name":"abx"},
    "title":{"text":"c","dx":17,"offset":10},
    "layer":[
     {"mark":{"type":"bar","color":"#4f81bd"},
      "encoding":{"x":{"field":"ab","type":"nominal","scale":{"domain":["SDZ","SMM","SM2","SMZ","SDM","AMP","OTC","CTC","TC","TIC","STR","HYG","DOC","POL","CFP","TRI","SPcR","CTZ","MNO","TYL","TILM","VA","CTR","CFC","ERM","RTM","CTX","ZA","CLA","KAN","CA","EFC","CHL","GM"],"paddingInner":0.35,"paddingOuter":0.55},"axis":{"labels":false,"title":null,"tickSize":3}},
       "y":{"field":"zone","type":"quantitative","scale":{"domain":[0,15],"nice":false},"axis":{"values":[0,5,10,15],"title":["Inhibition zone diameter","(cm)"],"titleFontSize":10,"labelFontSize":10}}}},
     {"mark":{"type":"text","angle":305,"align":"right","baseline":"middle","fontSize":6.5,"fontStyle":"italic","yOffset":5},
      "encoding":{"x":{"field":"ab","type":"nominal"},"y":{"datum":0},"text":{"field":"ab"},
       "color":{"field":"cls","type":"nominal","scale":{"domain":["Aminoglycoside","Beta-lactam","Fluoroquinolone","Glycopeptide","MLSB","Polypeptide","Phenicol","Sulfonamide","Tetracycline","Trimethoprim"],"range":["#0072bc","#f15a29","#754c24","#f7941d","#2e3192","#8dc63f","#ff00ff","#5c0a6e","#009444","#00a99d"]},"legend":null}}},
     {"transform":[{"filter":"datum.ab == 'SDZ'"}],"mark":{"type":"text","text":"Strong","align":"left","dx":-5,"fontSize":9,"color":"#222"},"encoding":{"x":{"datum":"SDZ"},"y":{"datum":13.3}}},
     {"transform":[{"filter":"datum.ab == 'SDZ'"}],"mark":{"type":"text","text":"Weak","align":"left","dx":-3,"fontSize":9,"color":"#222"},"encoding":{"x":{"datum":"HYG"},"y":{"datum":13.3}}},
     {"transform":[{"filter":"datum.ab == 'SDZ'"}],"mark":{"type":"rule","color":"#f15a29","strokeWidth":1},"encoding":{"x":{"datum":"SMZ"},"x2":{"datum":"STR"},"y":{"datum":13.3}}},
     {"transform":[{"filter":"datum.ab == 'SDZ'"}],"mark":{"type":"point","shape":"triangle-left","filled":true,"size":22,"color":"#f15a29"},"encoding":{"x":{"datum":"SMZ"},"y":{"datum":13.3}}},
     {"transform":[{"filter":"datum.ab == 'SDZ'"}],"mark":{"type":"point","shape":"triangle-right","filled":true,"size":22,"color":"#f15a29"},"encoding":{"x":{"datum":"STR"},"y":{"datum":13.3}}}
    ]}
  ],"spacing":-29,"resolve":{"scale":{"color":"independent","x":"independent","y":"independent"},"legend":{"color":"independent"}}},
  {"vconcat":[
   {"width":127,"height":130,"data":{"name":"zone"},
    "title":{"text":"b","frame":"group","dx":-27,"offset":-6},
    "layer":[
     {"mark":{"type":"bar","color":"#4f81bd"},
      "encoding":{"x":{"field":"site","type":"nominal","scale":{"domain":["Soil","FR Yak","FR Sheep","FR Pig","FR Horse","SS Yak","SS Sheep","SS Pig","IN Pig"],"paddingInner":0.38,"paddingOuter":0.25},
        "axis":{"labelAngle":-60,"labelFontSize":8,"labelExpr":"indexof(['FR ','SS ','IN '], substring(datum.value,0,3)) >= 0 ? substring(datum.value,3) : datum.value","title":["──────── ─────── ──","Free-range  Small-scale  Intense"],"titleFontSize":7,"titlePadding":3}},
       "y":{"field":"m","type":"quantitative","scale":{"domain":[0,15],"nice":false},"axis":{"values":[0,5,10,15],"title":["Inhibition zone of diameter","(cm)"],"titleFontSize":11,"labelFontSize":10}}}},
     {"mark":{"type":"errorbar","ticks":true,"color":"#222"},"encoding":{"x":{"field":"site","type":"nominal"},"y":{"field":"lo","type":"quantitative","axis":{"values":[0,5,10,15],"title":["Inhibition zone of diameter","(cm)"],"titleFontSize":11,"labelFontSize":10}},"y2":{"field":"hi"}}},
     {"mark":{"type":"text","dy":-8,"fontSize":10,"color":"#222"},"encoding":{"x":{"field":"site","type":"nominal"},"y":{"field":"hi","type":"quantitative","axis":{"values":[0,5,10,15],"title":["Inhibition zone of diameter","(cm)"],"titleFontSize":11,"labelFontSize":10}},"text":{"field":"let"}}}
    ]},
   {"width":131,"height":86,"data":{"name":"mdr"},
    "title":{"text":"e","dx":5,"offset":4},
    "mark":{"type":"bar"},
    "encoding":{
     "x":{"field":"site","type":"nominal","scale":{"domain":["Soil","FR Yak","FR Sheep","FR Pig","FR Horse","SS Yak","SS Sheep","SS Pig","IN Pig"],"paddingInner":0.18,"paddingOuter":0.1},
        "axis":{"labelAngle":-50,"labelFontSize":8,"labelExpr":"indexof(['FR ','SS ','IN '], substring(datum.value,0,3)) >= 0 ? substring(datum.value,3) : datum.value","title":["──────── ─────── ──","Free-range  Small-scale  Intense"],"titleFontSize":7,"titlePadding":3}},
     "xOffset":{"field":"type","type":"nominal","scale":{"domain":["MDR","XDR","PDR"]}},
     "y":{"field":"pct","type":"quantitative","scale":{"domain":[0,121],"nice":false},"axis":{"values":[0,50,100],"title":["Occurrence of multidrug-","resistant isolates (%)"],"titleFontSize":10,"labelFontSize":10}},
     "color":{"field":"type","type":"nominal","scale":{"domain":["MDR","XDR","PDR"],"range":["#7a9ad8","#9a78d6","#e48ee8"]},
      "legend":{"orient":"top-left","direction":"horizontal","title":null,"labelFontSize":10,"symbolSize":80,"columnPadding":12,"offset":5}}}}
  ],"spacing":-41,"resolve":{"scale":{"color":"independent","x":"independent","y":"independent"},"legend":{"color":"independent"}}}
 ],"spacing":16,"resolve":{"scale":{"color":"independent","x":"independent","y":"independent"},"legend":{"color":"independent"}}}
],"spacing":-34,"resolve":{"scale":{"color":"independent","x":"independent","y":"independent"},"legend":{"color":"independent"}}},
{"hconcat":[
 {"vconcat":[
  {"width":1,"height":28,"view":{"stroke":null},"data":{"name":"abx"},"mark":{"type":"square","opacity":0},
   "encoding":{"color":{"field":"cls","type":"nominal","scale":{"domain":["Aminoglycoside","Beta-lactam","Fluoroquinolone","Glycopeptide","MLSB","Polypeptide","Phenicol","Sulfonamide","Tetracycline","Trimethoprim"],"range":["#0072bc","#f15a29","#754c24","#f7941d","#2e3192","#8dc63f","#ff00ff","#5c0a6e","#009444","#00a99d"]},
     "legend":{"orient":"none","legendX":22,"legendY":-22,"columns":2,"title":null,"labelFontSize":9,"symbolSize":55,"symbolOpacity":1,"rowPadding":-4,"columnPadding":-3,"labelColor":"#222"}}},
   "title":{"text":"d","orient":"bottom","dx":-15,"offset":2}},
  {"hconcat":[
   {"data":{"name":"dens"},"bounds":"flush",
    "facet":{"row":{"field":"rid","type":"nominal","header":{"labels":false,"title":"Density","titleFontSize":11,"titleFont":"Liberation Sans","titleFontWeight":"normal","titlePadding":-3}}},
    "spacing":{"row":4},
    "spec":{"width":124,"height":16,"view":{"stroke":null},
     "layer":[
      {"mark":{"type":"area","interpolate":"monotone","fill":"#f7b1ab","stroke":"#ef8a82","strokeWidth":0.8},
       "encoding":{"x":{"field":"x","type":"quantitative","scale":{"domain":[-0.15,10.45],"nice":false},"axis":{"values":[0,2.5,5,7.5,10],"format":".1f","title":"ResistNum","titleFontSize":11,"labelFontSize":9.5,"labelPadding":8,"titlePadding":8,"domainColor":"#888"}},
        "y":{"field":"d","type":"quantitative","scale":{"domain":[0,0.2],"nice":false},"axis":{"values":[0,0.2],"format":".2f","title":null,"labelFontSize":6.5,"tickSize":2,"labelPadding":1,"domainColor":"#888"}}}},
      {"transform":[{"filter":"datum.x == 9"}],"mark":{"type":"rule","strokeDash":[4,3],"color":"#444","strokeWidth":1},"encoding":{"x":{"datum":5}}},
      {"transform":[{"filter":"datum.x == 9"}],"mark":{"type":"text","align":"right","fontSize":9.5,"color":"#222"},"encoding":{"x":{"datum":10.1},"y":{"datum":0.11},"text":{"field":"lab"}}}
     ]}},
   {"width":16,"height":176,"view":{"stroke":null},"data":{"name":"brk"},
    "layer":[
     {"mark":{"type":"rule","color":"#888"},"encoding":{"x":{"datum":1,"type":"quantitative","scale":{"domain":[0,3.5],"nice":false},"axis":null},"y":{"field":"from","type":"quantitative","scale":{"domain":[0.6,9.4],"reverse":true,"nice":false,"zero":false},"axis":null},"y2":{"field":"to"}}},
     {"mark":{"type":"rule","color":"#888"},"encoding":{"x":{"datum":0,"type":"quantitative"},"x2":{"datum":1},"y":{"field":"from","type":"quantitative"}}},
     {"mark":{"type":"rule","color":"#888"},"encoding":{"x":{"datum":0,"type":"quantitative"},"x2":{"datum":1},"y":{"field":"to","type":"quantitative"}}},
     {"mark":{"type":"text","angle":270,"fontSize":10,"color":"#222","baseline":"middle","align":"center"},"encoding":{"x":{"datum":3.2,"type":"quantitative"},"y":{"field":"mid","type":"quantitative"},"text":{"field":"grp"}}}
    ]}
  ],"spacing":8,"resolve":{"scale":{"color":"independent","x":"independent","y":"independent"},"legend":{"color":"independent"}}}
 ],"spacing":1,"resolve":{"scale":{"color":"independent","x":"independent","y":"independent"},"legend":{"color":"independent"}}},
 {"title":{"text":"f","frame":"group","dx":7,"offset":14},
  "hconcat":[
  {"bounds":"flush","spacing":0,
   "hconcat":[
    {"width":92,"height":255,"view":{"stroke":null},"data":{"name":"forest"},"transform":[{"filter":"datum.b == 'Acinetobacter'"}],
     "title":{"text":"Acinetobacter","orient":"bottom","anchor":"start","align":"right","angle":-15,"dx":30,"offset":6,"fontSize":10,"fontStyle":"italic","fontWeight":"bold"},
     "layer":[
      {"transform":[{"aggregate":[{"op":"count","as":"n"}]}],"mark":{"type":"rule","strokeDash":[4,3],"color":"#999"},"encoding":{"x":{"datum":0,"type":"quantitative","scale":{"domain":[-3.0,6.2],"nice":false,"zero":false},"axis":null}}},
      {"mark":{"type":"rule","color":"#cccccc","strokeWidth":1},"encoding":{"y":{"field":"ab","type":"nominal","scale":{"domain":["STR","GM","KAN","HYG","SPcR","TIC","AMP","CA","ZA","CTZ","CTR","CFP","CTX","CFC","EFC","VA","TYL","TILM","RTM","ERM","CLA","POL","CHL","SM2","SDZ","SMZ","SMM","SDM","TC","OTC","CTC","DOC","MNO","TRI"]},"axis":null},"x":{"field":"l","type":"quantitative"},"x2":{"field":"h"}}},
      {"mark":{"type":"point","filled":true,"size":38,"strokeWidth":0.8,"opacity":1},"encoding":{"y":{"field":"ab","type":"nominal"},"x":{"field":"e","type":"quantitative"},
        "fill":{"field":"sig","type":"nominal","scale":{"domain":["yes","no"],"range":["#ee1111","#ffffff"]},"legend":null},
        "stroke":{"field":"sig","type":"nominal","scale":{"domain":["yes","no"],"range":["#8b0000","#555555"]},"legend":null}}}]},
    {"width":88,"height":255,"view":{"stroke":null},"data":{"name":"forest"},"transform":[{"filter":"datum.b == 'Bacillus'"}],
     "title":{"text":"Bacillus","orient":"bottom","anchor":"start","align":"right","angle":-15,"dx":27,"offset":6,"fontSize":10,"fontStyle":"italic","fontWeight":"bold"},
     "layer":[
      {"transform":[{"aggregate":[{"op":"count","as":"n"}]}],"mark":{"type":"rule","strokeDash":[4,3],"color":"#999"},"encoding":{"x":{"datum":0,"type":"quantitative","scale":{"domain":[-2.7,6.1],"nice":false,"zero":false},"axis":null}}},
      {"mark":{"type":"rule","color":"#cccccc","strokeWidth":1},"encoding":{"y":{"field":"ab","type":"nominal","scale":{"domain":["STR","GM","KAN","HYG","SPcR","TIC","AMP","CA","ZA","CTZ","CTR","CFP","CTX","CFC","EFC","VA","TYL","TILM","RTM","ERM","CLA","POL","CHL","SM2","SDZ","SMZ","SMM","SDM","TC","OTC","CTC","DOC","MNO","TRI"]},"axis":null},"x":{"field":"l","type":"quantitative"},"x2":{"field":"h"}}},
      {"mark":{"type":"point","filled":true,"size":38,"strokeWidth":0.8,"opacity":1},"encoding":{"y":{"field":"ab","type":"nominal"},"x":{"field":"e","type":"quantitative"},
        "fill":{"field":"sig","type":"nominal","scale":{"domain":["yes","no"],"range":["#ee1111","#ffffff"]},"legend":null},
        "stroke":{"field":"sig","type":"nominal","scale":{"domain":["yes","no"],"range":["#8b0000","#555555"]},"legend":null}}}]},
    {"width":92,"height":255,"view":{"stroke":null},"data":{"name":"forest"},"transform":[{"filter":"datum.b == 'Enterobacteriaceae'"}],
     "title":{"text":"Enterobacteriaceae","orient":"bottom","anchor":"start","align":"right","angle":-15,"dx":48,"offset":6,"fontSize":10,"fontStyle":"italic","fontWeight":"bold"},
     "layer":[
      {"transform":[{"aggregate":[{"op":"count","as":"n"}]}],"mark":{"type":"rule","strokeDash":[4,3],"color":"#999"},"encoding":{"x":{"datum":0,"type":"quantitative","scale":{"domain":[-4.8,4.4],"nice":false,"zero":false},"axis":null}}},
      {"mark":{"type":"rule","color":"#cccccc","strokeWidth":1},"encoding":{"y":{"field":"ab","type":"nominal","scale":{"domain":["STR","GM","KAN","HYG","SPcR","TIC","AMP","CA","ZA","CTZ","CTR","CFP","CTX","CFC","EFC","VA","TYL","TILM","RTM","ERM","CLA","POL","CHL","SM2","SDZ","SMZ","SMM","SDM","TC","OTC","CTC","DOC","MNO","TRI"]},"axis":null},"x":{"field":"l","type":"quantitative"},"x2":{"field":"h"}}},
      {"mark":{"type":"point","filled":true,"size":38,"strokeWidth":0.8,"opacity":1},"encoding":{"y":{"field":"ab","type":"nominal"},"x":{"field":"e","type":"quantitative"},
        "fill":{"field":"sig","type":"nominal","scale":{"domain":["yes","no"],"range":["#ee1111","#ffffff"]},"legend":null},
        "stroke":{"field":"sig","type":"nominal","scale":{"domain":["yes","no"],"range":["#8b0000","#555555"]},"legend":null}}}]},
    {"width":88,"height":255,"view":{"stroke":null},"data":{"name":"forest"},"transform":[{"filter":"datum.b == 'Pseudomonas'"}],
     "title":{"text":"Pseudomonas","orient":"bottom","anchor":"start","align":"right","angle":-15,"dx":50,"offset":6,"fontSize":10,"fontStyle":"italic","fontWeight":"bold"},
     "layer":[
      {"transform":[{"aggregate":[{"op":"count","as":"n"}]}],"mark":{"type":"rule","strokeDash":[4,3],"color":"#999"},"encoding":{"x":{"datum":0,"type":"quantitative","scale":{"domain":[-5.0,3.8],"nice":false,"zero":false},"axis":null}}},
      {"mark":{"type":"rule","color":"#cccccc","strokeWidth":1},"encoding":{"y":{"field":"ab","type":"nominal","scale":{"domain":["STR","GM","KAN","HYG","SPcR","TIC","AMP","CA","ZA","CTZ","CTR","CFP","CTX","CFC","EFC","VA","TYL","TILM","RTM","ERM","CLA","POL","CHL","SM2","SDZ","SMZ","SMM","SDM","TC","OTC","CTC","DOC","MNO","TRI"]},"axis":null},"x":{"field":"l","type":"quantitative"},"x2":{"field":"h"}}},
      {"mark":{"type":"point","filled":true,"size":38,"strokeWidth":0.8,"opacity":1},"encoding":{"y":{"field":"ab","type":"nominal"},"x":{"field":"e","type":"quantitative"},
        "fill":{"field":"sig","type":"nominal","scale":{"domain":["yes","no"],"range":["#ee1111","#ffffff"]},"legend":null},
        "stroke":{"field":"sig","type":"nominal","scale":{"domain":["yes","no"],"range":["#8b0000","#555555"]},"legend":null}}}]},
    {"width":85,"height":255,"view":{"stroke":null},"data":{"name":"forest"},"transform":[{"filter":"datum.b == 'Enterococcus'"}],
     "title":{"text":"Enterococcus","orient":"bottom","anchor":"start","align":"right","angle":-15,"dx":41,"offset":6,"fontSize":10,"fontStyle":"italic","fontWeight":"bold"},
     "layer":[
      {"transform":[{"aggregate":[{"op":"count","as":"n"}]}],"mark":{"type":"rule","strokeDash":[4,3],"color":"#999"},"encoding":{"x":{"datum":0,"type":"quantitative","scale":{"domain":[-4.1,4.4],"nice":false,"zero":false},"axis":null}}},
      {"mark":{"type":"rule","color":"#cccccc","strokeWidth":1},"encoding":{"y":{"field":"ab","type":"nominal","scale":{"domain":["STR","GM","KAN","HYG","SPcR","TIC","AMP","CA","ZA","CTZ","CTR","CFP","CTX","CFC","EFC","VA","TYL","TILM","RTM","ERM","CLA","POL","CHL","SM2","SDZ","SMZ","SMM","SDM","TC","OTC","CTC","DOC","MNO","TRI"]},"axis":{"orient":"right","ticks":false,"domain":false,"labelFontSize":8,"labelPadding":2,"title":null}},"x":{"field":"l","type":"quantitative"},"x2":{"field":"h"}}},
      {"mark":{"type":"point","filled":true,"size":38,"strokeWidth":0.8,"opacity":1},"encoding":{"y":{"field":"ab","type":"nominal"},"x":{"field":"e","type":"quantitative"},
        "fill":{"field":"sig","type":"nominal","scale":{"domain":["yes","no"],"range":["#ee1111","#ffffff"]},"legend":null},
        "stroke":{"field":"sig","type":"nominal","scale":{"domain":["yes","no"],"range":["#8b0000","#555555"]},"legend":null}}}]}
   ],"resolve":{"scale":{"x":"independent","y":"independent"}}},
  {"width":8,"height":255,"view":{"stroke":null},"data":{"name":"abx"},"mark":{"type":"rect"},
   "encoding":{"y":{"field":"ab","type":"nominal","scale":{"domain":["STR","GM","KAN","HYG","SPcR","TIC","AMP","CA","ZA","CTZ","CTR","CFP","CTX","CFC","EFC","VA","TYL","TILM","RTM","ERM","CLA","POL","CHL","SM2","SDZ","SMZ","SMM","SDM","TC","OTC","CTC","DOC","MNO","TRI"],"paddingInner":0,"paddingOuter":0},"axis":null},
    "color":{"field":"cls","type":"nominal","scale":{"domain":["Aminoglycoside","Beta-lactam","Fluoroquinolone","Glycopeptide","MLSB","Polypeptide","Phenicol","Sulfonamide","Tetracycline","Trimethoprim"],"range":["#0072bc","#f15a29","#754c24","#f7941d","#2e3192","#8dc63f","#ff00ff","#5c0a6e","#009444","#00a99d"]},"legend":null}}}
 ],"spacing":5,"resolve":{"scale":{"color":"independent","x":"independent","y":"independent"},"legend":{"color":"independent"}}}
],"spacing":-31,"resolve":{"scale":{"color":"independent","x":"independent","y":"independent"},"legend":{"color":"independent"}}}
]
}
